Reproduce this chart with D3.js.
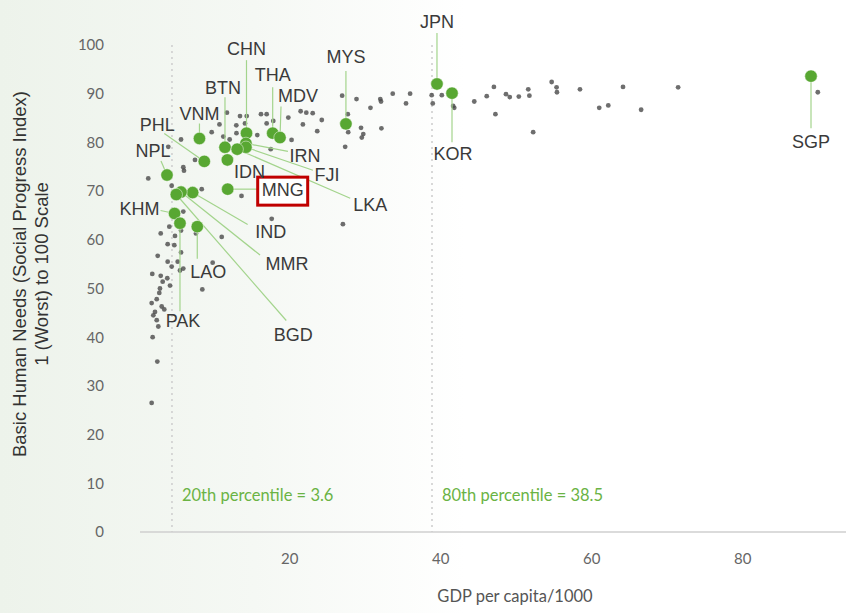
<!DOCTYPE html>
<html><head><meta charset="utf-8">
<script src="https://cdn.jsdelivr.net/npm/d3@7"></script>
<style>body{margin:0;background:#fff}svg{display:block}</style>
</head><body><svg id="c" width="846" height="613"></svg>
<script>
// ---- data ----
const otherGDP = [1.77,2.52,1.9,2.65,2.44,1.99,2.21,3.44,3.1,1.77,2.44,2.78,2.87,8.48,4.2,3.23,3.84,2.97,1.85,5.52,5.96,4.42,9.85,3.89,5.22,5.66,2.57,3.89,4.77,2.97,4.11,4.86,5.66,7.64,11.05,5.96,8.4,4.42,13.67,1.32,5.96,6.05,7.51,3.97,5.66,9.72,10.75,11.74,12.98,12.1,13.0,13.47,14.36,14.13,16.25,17.0,17.88,17.0,15.76,17.54,19.87,21.5,22.25,23.1,24.3,21.8,23.7,20.3,17.67,27.1,27.0,28.9,30.75,32.05,32.15,33.7,36.0,35.46,38.86,39.0,40.2,41.7,41.85,44.5,46.15,47.1,47.3,48.7,49.2,50.4,51.65,51.8,52.3,54.75,55.4,55.45,58.5,61.05,62.25,64.2,66.6,71.5,90.0,27.75,27.8,29.5,29.8,29.6,32.2,27.4,11.26];
const otherBHN = [26.5,35.0,40.0,42.2,43.5,44.5,45.2,45.7,46.3,47.0,47.8,49.1,50.0,49.8,50.6,51.4,52.1,52.6,53.0,53.7,54.1,54.5,55.3,55.5,55.5,57.4,56.7,59.1,58.9,61.3,62.7,60.8,61.9,61.3,60.6,65.8,70.4,71.1,69.0,72.6,74.9,74.2,76.4,79.1,80.6,82.1,83.7,86.1,83.5,80.6,81.9,85.4,85.4,83.9,85.8,85.8,84.4,83.9,81.5,78.6,85.1,86.4,86.1,86.0,84.6,83.7,82.3,80.5,64.3,63.2,89.6,88.9,87.1,88.9,88.4,90.0,90.0,88.0,89.7,88.0,89.7,87.5,87.1,88.4,89.5,91.4,85.8,89.9,89.3,89.4,90.9,89.6,82.1,92.4,91.3,90.3,90.9,87.1,87.6,91.4,86.7,91.3,90.3,85.8,82.1,83.0,81.7,81.0,82.9,79.1,81.2];

const asiaCodes = ["JPN","KOR","SGP","MYS","CHN","THA","MDV","BTN","VNM","PHL","NPL","IDN","IRN","FJI","LKA","MNG","IND","MMR","BGD","KHM","PAK","LAO"];
const asiaGDP   = [39.56,41.55,89.1,27.5,14.33,17.8,18.77,11.48,8.1,8.74,3.8,11.8,14.26,14.26,13.1,11.84,7.2,5.66,5.03,4.8,5.52,7.81];
const asiaBHN   = [92.0,90.1,93.6,83.8,81.9,81.9,81.0,79.0,80.8,76.1,73.3,76.4,79.8,79.0,78.6,70.4,69.7,69.8,69.3,65.4,63.4,62.7];
const focusCode = "MNG";

const xTicks = [20,40,60,80];
const yTicks = [0,10,20,30,40,50,60,70,80,90,100];
const percentileText = ["20th percentile = 3.6","80th percentile = 38.5"];
const percentileLineAt = [4.46,38.9];

// ---- annotation layout (label dx,dy ; leader end dx,dy) in px ----
const labelLayout = {
  JPN:[0,-62,0,-51], KOR:[1,60,0,49], SGP:[0,66,0,52], MYS:[0,-67,0,-53],
  CHN:[0,-84,0,-73], THA:[0,-58,0,-46], MDV:[18,-42,1,-31], BTN:[-2,-60,0,-50],
  VNM:[0,-25,0,-15], PHL:[-47,-37,-40,-28], NPL:[-14,-24,-6,-14], IDN:[22,12,null,null],
  IRN:[59,12,42,8], FJI:[81,27,67,23], LKA:[133,55,113,49], MNG:[55,1,30,0],
  IND:[78,39,55,32], MMR:[106,72,79,63], BGD:[117,140,110,126], KHM:[-35,-5,-14,-3],
  PAK:[3,97,0,88], LAO:[11,45,0,32]
};

const W = 846, H = 613;
const svg = d3.select("#c");
const defs = svg.append("defs");
const grad = defs.append("linearGradient").attr("id","bg").attr("x1","0").attr("x2","1").attr("y1","0").attr("y2","0");
grad.append("stop").attr("offset","0").attr("stop-color","#edf3eb");
grad.append("stop").attr("offset","0.3").attr("stop-color","#f5f8f4");
grad.append("stop").attr("offset","0.55").attr("stop-color","#ffffff");
svg.append("rect").attr("width",W).attr("height",H).attr("fill","url(#bg)");

const x = d3.scaleLinear().domain([0,100]).range([138.3, 893.3]);
const y = d3.scaleLinear().domain([0,100]).range([532, 45]);

// axis baseline
svg.append("line").attr("x1",140).attr("x2",W).attr("y1",y(0)).attr("y2",y(0))
  .attr("stroke","#cfcfcf").attr("stroke-width",1.6);

// x ticks
const xa = svg.append("g").attr("transform",`translate(0,${y(0)})`)
  .call(d3.axisBottom(x).tickValues(xTicks).tickSize(0).tickPadding(21));
xa.select(".domain").remove();
xa.selectAll("text").attr("font-family","Lato").attr("font-size",15).attr("fill","#666");

// y ticks
const ya = svg.append("g").attr("transform",`translate(104,0)`)
  .call(d3.axisLeft(y).tickValues(yTicks).tickSize(0).tickPadding(0));
ya.select(".domain").remove();
ya.selectAll("text").attr("font-family","Lato").attr("font-size",15).attr("fill","#666");

// percentile lines
percentileLineAt.forEach((v,i)=>{
  svg.append("line").attr("x1",x(v)).attr("x2",x(v)).attr("y1",y(100)).attr("y2",y(0))
    .attr("stroke","#cfcfcf").attr("stroke-width",1.6).attr("stroke-dasharray","2,4");
  svg.append("text").attr("x",x(v)+10).attr("y",501).text(percentileText[i])
    .attr("font-family","Lato").attr("font-size",16.5).attr("fill","#6ab344");
});

// axis titles
svg.append("text").attr("x",515).attr("y",602).attr("text-anchor","middle")
  .attr("font-family","Lato").attr("font-size",16.5).attr("fill","#555").text("GDP per capita/1000");
const yt = svg.append("g").attr("transform","translate(0,274) rotate(-90)");
yt.append("text").attr("x",0).attr("y",26).attr("text-anchor","middle")
  .attr("font-family","Liberation Sans").attr("font-size",18.5).attr("fill","#333")
  .text("Basic Human Needs (Social Progress Index)");
yt.append("text").attr("x",0).attr("y",48).attr("text-anchor","middle")
  .attr("font-family","Liberation Sans").attr("font-size",18.5).attr("fill","#333")
  .text("1 (Worst) to 100 Scale");

// other countries
svg.append("g").selectAll("circle").data(d3.range(otherGDP.length)).join("circle")
  .attr("cx",i=>x(otherGDP[i])).attr("cy",i=>y(otherBHN[i])).attr("r",2.4)
  .attr("fill","#4a4a4a").attr("fill-opacity",0.8);

// highlighted
const hl = d3.range(asiaCodes.length).map(i=>({code:asiaCodes[i],gx:x(asiaGDP[i]),gy:y(asiaBHN[i]),L:labelLayout[asiaCodes[i]]}));
svg.append("g").selectAll("line").data(hl.filter(d=>d.L[2]!==null)).join("line")
  .attr("x1",d=>d.gx).attr("y1",d=>d.gy).attr("x2",d=>d.gx+d.L[2]).attr("y2",d=>d.gy+d.L[3])
  .attr("stroke","#a3d48c").attr("stroke-width",1.2);

// focus box
const f = hl.find(d=>d.code===focusCode);
svg.append("rect").attr("x",f.gx+30).attr("y",f.gy-12).attr("width",50).attr("height",28)
  .attr("fill","#fff").attr("stroke","#c00000").attr("stroke-width",3);

svg.append("g").selectAll("circle").data(hl).join("circle")
  .attr("cx",d=>d.gx).attr("cy",d=>d.gy).attr("r",6.2)
  .attr("fill","#58a732").attr("stroke","#ffffff").attr("stroke-opacity",0.6).attr("stroke-width",0.8);

svg.append("g").selectAll("text").data(hl).join("text")
  .attr("x",d=>d.gx+d.L[0]).attr("y",d=>d.gy+d.L[1]).attr("dy","0.35em").attr("text-anchor","middle")
  .attr("font-family","Liberation Sans").attr("font-size",18).attr("fill","#3a3a3a")
  .text(d=>d.code);
</script></body></html>
